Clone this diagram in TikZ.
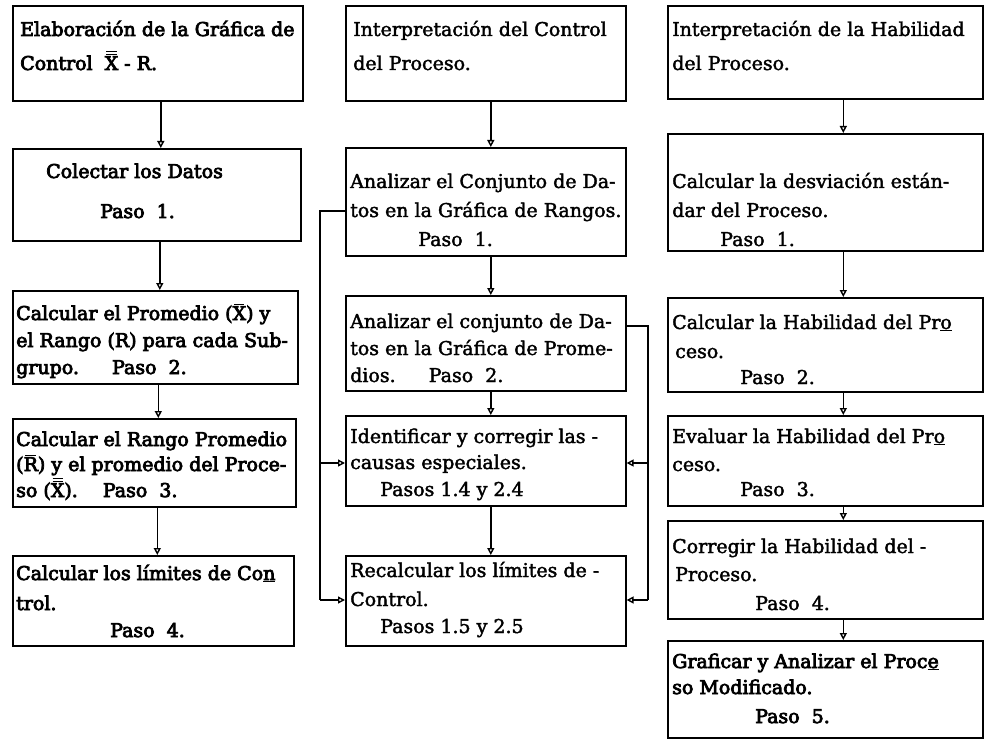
\documentclass[tikz,border=0pt]{standalone}
\usepackage{fontspec}
\setmainfont{DejaVu Serif}
\newfontfamily\plainface{DejaVu Serif}[FakeBold=2]
\newfontfamily\darkface{DejaVu Serif}[FakeBold=4]
\usetikzlibrary{arrows.meta}
% letters with one or two bars above them
\newcommand{\barline}[1]{\rlap{\raisebox{#1\ht0}{\hbox to\wd0{\hfil\rule{0.75\wd0}{0.9pt}\hfil}}}}
\newcommand{\xb}{\setbox0\hbox{X}\barline{1.12}X}
\newcommand{\xbb}{\setbox0\hbox{X}\barline{1.12}\barline{1.32}X}
\newcommand{\rb}{\setbox0\hbox{R}\barline{1.12}R}
\begin{document}
\begin{tikzpicture}[x=1pt,y=-1pt,
  box/.style={draw, line width=1.6pt, anchor=north west, inner sep=0pt},
  txt/.style={anchor=base west, inner sep=0pt, font=\plainface\fontsize{19}{22}\selectfont},
  dtxt/.style={txt, font=\darkface\fontsize{19}{22}\selectfont},
  conn/.style={line width=1.4pt},
  arr/.style={line width=1.4pt, -{Triangle[open,length=7pt,width=7pt]}}]
\useasboundingbox (0,0) rectangle (984,743);

% ---- column 1: building the X-R chart
\node[box, minimum width=290pt, minimum height=95pt] (a1) at (12,5) {};
\node[dtxt] (a1t1) at (20,36) {Elaboración de la Gráfica de};
\node[dtxt] (a1t2) at (20,70) {Control \ \xbb\ - R.};

\node[box, minimum width=288pt, minimum height=92pt] (a2) at (12,148) {};
\node[dtxt] (a2t1) at (46,178) {Colectar los Datos};
\node[dtxt] (a2t2) at (100,218) {Paso \ 1.};

\node[box, minimum width=285pt, minimum height=93pt] (a3) at (12,290) {};
\node[dtxt] (a3t1) at (16,320) {Calcular el Promedio (\xb) y};
\node[dtxt] (a3t2) at (16,347) {el Rango (R) para cada Sub-};
\node[dtxt] (a3t3) at (16,374) {grupo. \quad\ Paso \ 2.};

\node[box, minimum width=283pt, minimum height=88pt] (a4) at (12,418) {};
\node[dtxt] (a4t1) at (16,446) {Calcular el Rango Promedio};
\node[dtxt] (a4t2) at (16,471) {(\rb) y el promedio del Proce-};
\node[dtxt] (a4t3) at (16,497) {so (\xbb). \quad Paso \ 3.};

\node[box, minimum width=281pt, minimum height=90pt] (a5) at (12,555) {};
\node[dtxt] (a5t1) at (16,580) {Calcular los límites de Co\underline{n}};
\node[dtxt] (a5t2) at (16,610) {trol.};
\node[dtxt] (a5t3) at (110,637) {Paso \ 4.};

\foreach \u/\v in {a1/a2,a2/a3,a3/a4,a4/a5}
  \draw[arr] ([xshift=3pt]\u.south) -- ([xshift=3pt]\u.south |- \v.north);

% ---- column 2: interpreting process control
\node[box, minimum width=280pt, minimum height=95pt] (b1) at (345,5) {};
\node[txt] (b1t1) at (353,36) {Interpretación del Control};
\node[txt] (b1t2) at (353,70) {del Proceso.};

\node[box, minimum width=280pt, minimum height=108pt] (b2) at (345,147) {};
\node[txt] (b2t1) at (350,188) {Analizar el Conjunto de Da-};
\node[txt] (b2t2) at (350,217) {tos en la Gráfica de Rangos.};
\node[txt] (b2t3) at (418,246) {Paso \ 1.};

\node[box, minimum width=280pt, minimum height=95pt] (b3) at (345,295) {};
\node[txt] (b3t1) at (350,328) {Analizar el conjunto de Da-};
\node[txt] (b3t2) at (350,355) {tos en la Gráfica de Prome-};
\node[txt] (b3t3) at (350,382) {dios. \quad\ Paso \ 2.};

\node[box, minimum width=280pt, minimum height=90pt] (b4) at (345,415) {};
\node[txt] (b4t1) at (350,443) {Identificar y corregir las -};
\node[txt] (b4t2) at (350,469) {causas especiales.};
\node[txt] (b4t3) at (380,496) {Pasos 1.4 y 2.4};

\node[box, minimum width=280pt, minimum height=90pt] (b5) at (345,555) {};
\node[txt] (b5t1) at (350,577) {Recalcular los límites de -};
\node[txt] (b5t2) at (350,606) {Control.};
\node[txt] (b5t3) at (380,633) {Pasos 1.5 y 2.5};

\foreach \u/\v in {b1/b2,b2/b3,b3/b4,b4/b5}
  \draw[arr] ([xshift=5pt]\u.south) -- ([xshift=5pt]\u.south |- \v.north);

% feedback lines beside the boxes
\coordinate (l1) at (320,211);
\coordinate (l2) at (320,463);
\coordinate (l3) at (320,600);
\draw[conn] (b2.west |- l1) -- (l1) -- (l3);
\draw[arr] (l2) -- (b4.west |- l2);
\draw[arr] (l3) -- (b5.west |- l3);

\coordinate (r1) at (648,326);
\coordinate (r2) at (648,463);
\coordinate (r3) at (648,600);
\draw[conn] (b3.east |- r1) -- (r1) -- (r3);
\draw[arr] (r2) -- (b4.east |- r2);
\draw[arr] (r3) -- (b5.east |- r3);

% ---- column 3: interpreting process capability
\node[box, minimum width=315pt, minimum height=93pt] (c1) at (667,5) {};
\node[txt] (c1t1) at (672,36) {Interpretación de la Habilidad};
\node[txt] (c1t2) at (672,70) {del Proceso.};

\node[box, minimum width=315pt, minimum height=117pt] (c2) at (667,133) {};
\node[txt] (c2t1) at (672,188) {Calcular la desviación están-};
\node[txt] (c2t2) at (672,217) {dar del Proceso.};
\node[txt] (c2t3) at (720,246) {Paso \ 1.};

\node[box, minimum width=315pt, minimum height=94pt] (c3) at (667,297) {};
\node[txt] (c3t1) at (672,329) {Calcular la Habilidad del Pr\underline{o}};
\node[txt] (c3t2) at (675,358) {ceso.};
\node[txt] (c3t3) at (740,384) {Paso \ 2.};

\node[box, minimum width=315pt, minimum height=90pt] (c4) at (667,415) {};
\node[txt] (c4t1) at (672,443) {Evaluar la Habilidad del Pr\underline{o}};
\node[txt] (c4t2) at (672,471) {ceso.};
\node[txt] (c4t3) at (740,496) {Paso \ 3.};

\node[box, minimum width=315pt, minimum height=98pt] (c5) at (667,520) {};
\node[txt] (c5t1) at (672,553) {Corregir la Habilidad del -};
\node[txt] (c5t2) at (675,581) {Proceso.};
\node[txt] (c5t3) at (755,610) {Paso \ 4.};

\node[box, minimum width=315pt, minimum height=97pt] (c6) at (667,640) {};
\node[dtxt] (c6t1) at (672,668) {Graficar y Analizar el Proc\underline{e}};
\node[dtxt] (c6t2) at (672,694) {so Modificado.};
\node[dtxt] (c6t3) at (755,723) {Paso \ 5.};

\foreach \u/\v in {c1/c2,c2/c3,c3/c4,c4/c5,c5/c6}
  \draw[arr] ([xshift=18pt]\u.south) -- ([xshift=18pt]\u.south |- \v.north);
\end{tikzpicture}
\end{document}
